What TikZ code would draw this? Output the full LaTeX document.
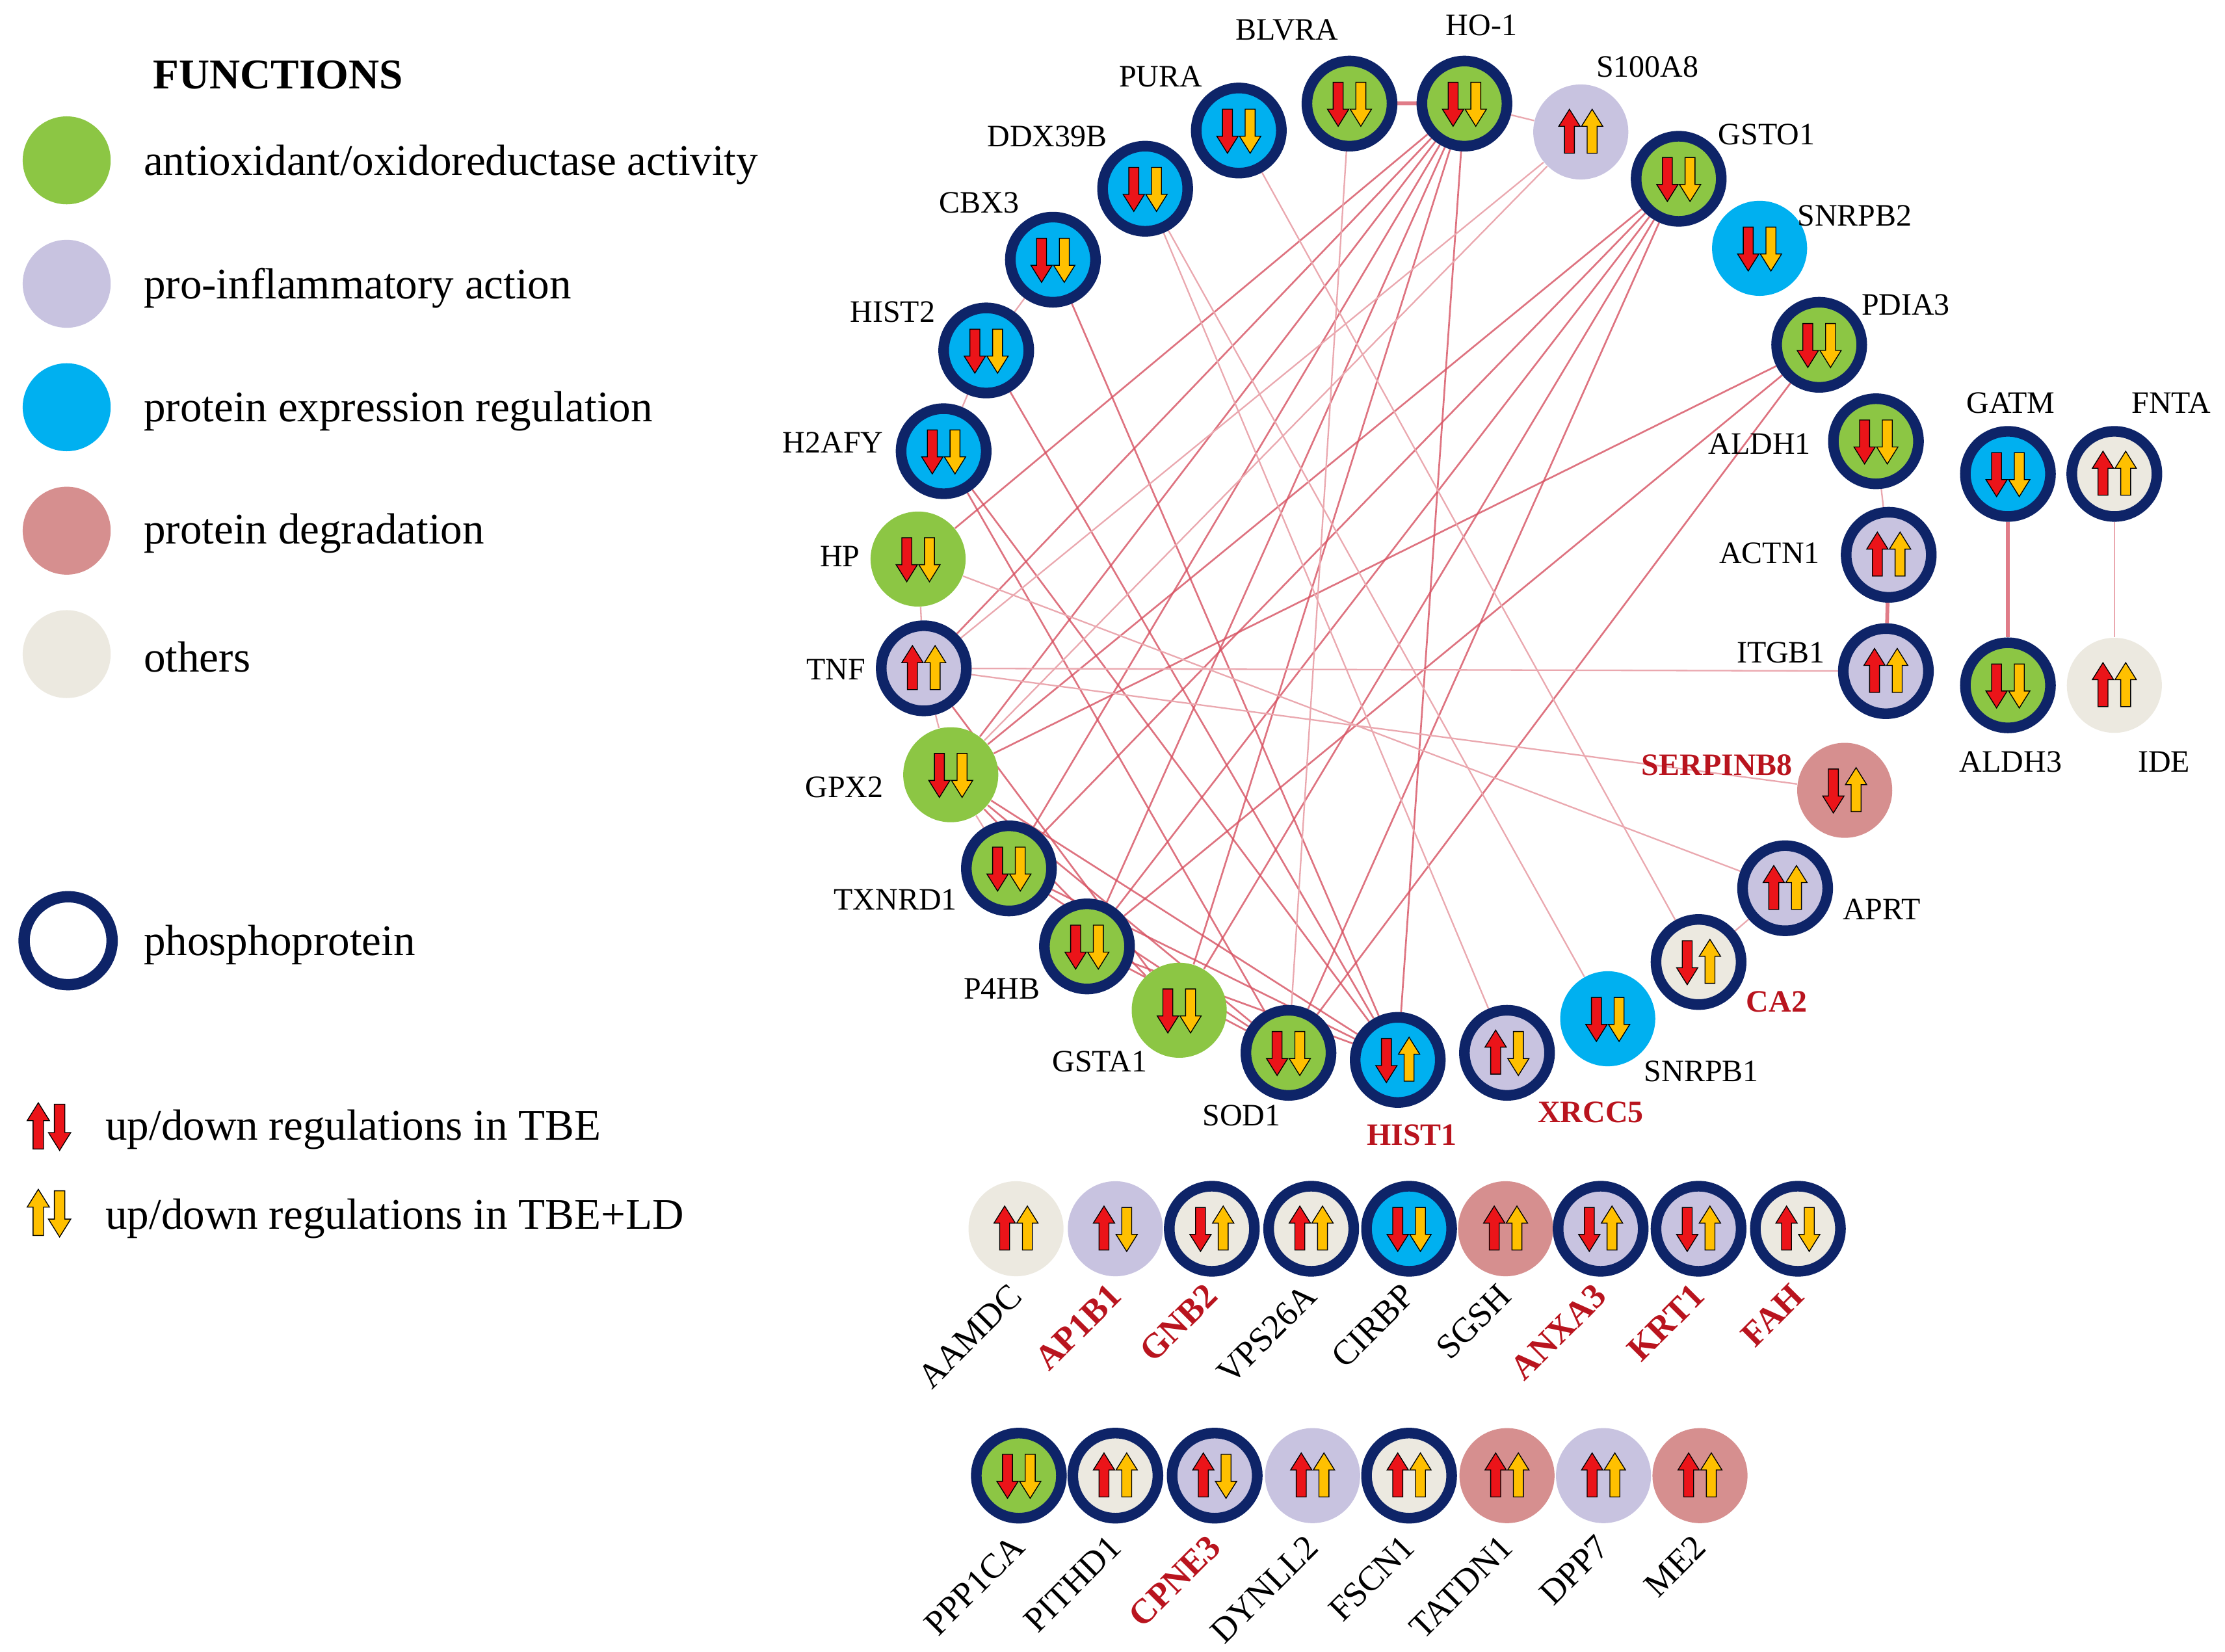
\documentclass[tikz,border=0pt]{standalone}
\usepackage{fontspec}
\setmainfont{Liberation Serif}
\usetikzlibrary{positioning}
\pgfdeclarelayer{edges}
\pgfsetlayers{edges,main}

\definecolor{funcanti}{RGB}{140,198,68}
\definecolor{funcinfl}{RGB}{200,195,224}
\definecolor{funcexpr}{RGB}{0,176,240}
\definecolor{funcdegr}{RGB}{214,143,143}
\definecolor{funcother}{RGB}{236,233,224}
\definecolor{ringblue}{RGB}{14,36,104}
\definecolor{tbered}{RGB}{235,20,25}
\definecolor{ldorange}{RGB}{255,192,0}
\definecolor{ppired}{RGB}{214,80,96}
\definecolor{hitred}{RGB}{185,20,30}

\tikzset{
  gene/.style={circle, inner sep=0pt, minimum size=1.34cm},
  phospho/.style={draw=ringblue, line width=0.15cm, minimum size=1.2cm},
  lab/.style={font=\fontsize{12.5}{14}\selectfont, inner sep=1pt},
  hitlab/.style={lab, font=\bfseries\fontsize{12.5}{14}\selectfont, text=hitred},
  rlab/.style={font=\fontsize{14}{16}\selectfont, inner sep=0pt, rotate=45, anchor=east},
  rhit/.style={rlab, font=\bfseries\fontsize{14}{16}\selectfont, text=hitred},
  legdot/.style={circle, inner sep=0pt, minimum size=1.24cm},
  legring/.style={circle, inner sep=0pt, minimum size=1.24cm, draw=ringblue, line width=0.16cm, fill=white},
  legtext/.style={font=\fontsize{17.5}{20}\selectfont, anchor=west, inner sep=0pt},
  ppi/.style={draw=ppired, line width=0.7pt, draw opacity=0.8},
  ppiweak/.style={draw=ppired!50!white, line width=0.6pt},
  ppithick/.style={draw=ppired!75!white, line width=1.5pt},
  upreg/.style={},
  downreg/.style={rotate=180},
  regarrow/.pic={
    \filldraw[draw=black, line width=0.35pt, line join=miter, pic actions]
      (-3.5,15) -- (-3.5,-4) -- (-7.5,-4) -- (0,-16) -- (7.5,-4) -- (3.5,-4) -- (3.5,15) -- cycle;
  },
}

% one protein: name, position, look, TBE, TBE+LD
\newcommand{\gene}[5]{%
  \node[gene,#3] (#1) at (#2) {};
  \pic[fill=tbered,#4] at ([xshift=-0.16cm]#1.center) {regarrow};
  \pic[fill=ldorange,#5] at ([xshift=0.16cm]#1.center) {regarrow};}

\begin{document}
\begin{tikzpicture}[x=0.02cm, y=-0.02cm]
\useasboundingbox (0,0) rectangle (1568,1164);

% legend
\node[font=\bfseries\fontsize{17}{20}\selectfont] (functitle) at (196,53) {FUNCTIONS};
\node[legdot, fill=funcanti] (Lanti) at (47,113) {};
\node[legtext] (Tanti) at (101,116) {antioxidant/oxidoreductase activity};
\node[legdot, fill=funcinfl] (Linfl) at (47,200) {};
\node[legtext] (Tinfl) at (101,203) {pro-inflammatory action};
\node[legdot, fill=funcexpr] (Lexpr) at (47,287) {};
\node[legtext] (Texpr) at (101,290) {protein expression regulation};
\node[legdot, fill=funcdegr] (Ldegr) at (47,374) {};
\node[legtext] (Tdegr) at (101,376) {protein degradation};
\node[legdot, fill=funcother] (Lother) at (47,461) {};
\node[legtext] (Tother) at (101,463) {others};
\node[legring] (Lring) at (48,663) {};
\node[legtext] (Tring) at (101,666) {phosphoprotein};
\pic[fill=tbered, scale=1.05] at (27,794) {regarrow};
\pic[fill=tbered, scale=1.05, downreg] at (42,794) {regarrow};
\node[legtext] (Ttbe) at (74,796) {up/down regulations in TBE};
\pic[fill=ldorange, scale=1.05] at (27,855) {regarrow};
\pic[fill=ldorange, scale=1.05, downreg] at (42,855) {regarrow};
\node[legtext] (Tld) at (74,859) {up/down regulations in TBE+LD};

% ring of interacting proteins
\gene{PURA}{873,92}{fill=funcexpr,phospho}{downreg}{downreg}
\gene{BLVRA}{951,73}{fill=funcanti,phospho}{downreg}{downreg}
\gene{HO1}{1032,73}{fill=funcanti,phospho}{downreg}{downreg}
\gene{S100A8}{1114,93}{fill=funcinfl}{upreg}{upreg}
\gene{GSTO1}{1183,126}{fill=funcanti,phospho}{downreg}{downreg}
\gene{SNRPB2}{1240,175}{fill=funcexpr}{downreg}{downreg}
\gene{PDIA3}{1282,243}{fill=funcanti,phospho}{downreg}{downreg}
\gene{ALDH1}{1322,311}{fill=funcanti,phospho}{downreg}{downreg}
\gene{ACTN1}{1331,391}{fill=funcinfl,phospho}{upreg}{upreg}
\gene{ITGB1}{1329,473}{fill=funcinfl,phospho}{upreg}{upreg}
\gene{SERPINB8}{1300,557}{fill=funcdegr}{downreg}{upreg}
\gene{APRT}{1258,626}{fill=funcinfl,phospho}{upreg}{upreg}
\gene{CA2}{1197,678}{fill=funcother,phospho}{downreg}{upreg}
\gene{SNRPB1}{1133,718}{fill=funcexpr}{downreg}{downreg}
\gene{XRCC5}{1062,742}{fill=funcinfl,phospho}{upreg}{downreg}
\gene{HIST1}{985,747}{fill=funcexpr,phospho}{downreg}{upreg}
\gene{SOD1}{908,742}{fill=funcanti,phospho}{downreg}{downreg}
\gene{GSTA1}{831,712}{fill=funcanti}{downreg}{downreg}
\gene{P4HB}{766,667}{fill=funcanti,phospho}{downreg}{downreg}
\gene{TXNRD1}{711,612}{fill=funcanti,phospho}{downreg}{downreg}
\gene{GPX2}{670,546}{fill=funcanti}{downreg}{downreg}
\gene{TNF}{651,471}{fill=funcinfl,phospho}{upreg}{upreg}
\gene{HP}{647,394}{fill=funcanti}{downreg}{downreg}
\gene{H2AFY}{665,318}{fill=funcexpr,phospho}{downreg}{downreg}
\gene{HIST2}{695,247}{fill=funcexpr,phospho}{downreg}{downreg}
\gene{CBX3}{742,183}{fill=funcexpr,phospho}{downreg}{downreg}
\gene{DDX39B}{807,133}{fill=funcexpr,phospho}{downreg}{downreg}

\node[lab] (PURA-l) at (818,54) {PURA};
\node[lab] (BLVRA-l) at (907,21) {BLVRA};
\node[lab] (HO1-l) at (1044,18) {HO-1};
\node[lab] (S100A8-l) at (1161,47) {S100A8};
\node[lab] (GSTO1-l) at (1245,95) {GSTO1};
\node[lab] (SNRPB2-l) at (1307,152) {SNRPB2};
\node[lab] (PDIA3-l) at (1343,215) {PDIA3};
\node[lab] (ALDH1-l) at (1240,313) {ALDH1};
\node[lab] (ACTN1-l) at (1247,390) {ACTN1};
\node[lab] (ITGB1-l) at (1255,460) {ITGB1};
\node[hitlab] (SERPINB8-l) at (1210,539) {SERPINB8};
\node[lab] (APRT-l) at (1326,641) {APRT};
\node[hitlab] (CA2-l) at (1252,706) {CA2};
\node[lab] (SNRPB1-l) at (1199,755) {SNRPB1};
\node[hitlab] (XRCC5-l) at (1121,784) {XRCC5};
\node[hitlab] (HIST1-l) at (995,800) {HIST1};
\node[lab] (SOD1-l) at (875,786) {SOD1};
\node[lab] (GSTA1-l) at (775,748) {GSTA1};
\node[lab] (P4HB-l) at (706,697) {P4HB};
\node[lab] (TXNRD1-l) at (631,634) {TXNRD1};
\node[lab] (GPX2-l) at (595,555) {GPX2};
\node[lab] (TNF-l) at (589,472) {TNF};
\node[lab] (HP-l) at (592,392) {HP};
\node[lab] (H2AFY-l) at (587,312) {H2AFY};
\node[lab] (HIST2-l) at (629,220) {HIST2};
\node[lab] (CBX3-l) at (690,143) {CBX3};
\node[lab] (DDX39B-l) at (738,96) {DDX39B};

% two pairs on the right
\gene{GATM}{1415,334}{fill=funcexpr,phospho}{downreg}{downreg}
\gene{FNTA}{1490,334}{fill=funcother,phospho}{upreg}{upreg}
\gene{ALDH3}{1415,483}{fill=funcanti,phospho}{downreg}{downreg}
\gene{IDE}{1490,483}{fill=funcother}{upreg}{upreg}
\node[lab] (GATM-l) at (1417,284) {GATM};
\node[lab] (FNTA-l) at (1530,284) {FNTA};
\node[lab] (ALDH3-l) at (1417,537) {ALDH3};
\node[lab] (IDE-l) at (1525,537) {IDE};

% proteins without interactions, row 1
\gene{AAMDC}{716,866}{fill=funcother}{upreg}{upreg}
\gene{AP1B1}{786,866}{fill=funcinfl}{upreg}{downreg}
\gene{GNB2}{854,866}{fill=funcother,phospho}{downreg}{upreg}
\gene{VPS26A}{924,866}{fill=funcother,phospho}{upreg}{upreg}
\gene{CIRBP}{993,866}{fill=funcexpr,phospho}{downreg}{downreg}
\gene{SGSH}{1061,866}{fill=funcdegr}{upreg}{upreg}
\gene{ANXA3}{1128,866}{fill=funcinfl,phospho}{downreg}{upreg}
\gene{KRT1}{1197,866}{fill=funcinfl,phospho}{downreg}{upreg}
\gene{FAH}{1267,866}{fill=funcother,phospho}{upreg}{downreg}
\node[rlab] (AAMDC-l) at ([yshift=-0.86cm]AAMDC.center) {AAMDC};
\node[rhit] (AP1B1-l) at ([yshift=-0.86cm]AP1B1.center) {AP1B1};
\node[rhit] (GNB2-l) at ([yshift=-0.86cm]GNB2.center) {GNB2};
\node[rlab] (VPS26A-l) at ([yshift=-0.86cm]VPS26A.center) {VPS26A};
\node[rlab] (CIRBP-l) at ([yshift=-0.86cm]CIRBP.center) {CIRBP};
\node[rlab] (SGSH-l) at ([yshift=-0.86cm]SGSH.center) {SGSH};
\node[rhit] (ANXA3-l) at ([yshift=-0.86cm]ANXA3.center) {ANXA3};
\node[rhit] (KRT1-l) at ([yshift=-0.86cm]KRT1.center) {KRT1};
\node[rhit] (FAH-l) at ([yshift=-0.86cm]FAH.center) {FAH};

% row 2
\gene{PPP1CA}{718,1040}{fill=funcanti,phospho}{downreg}{downreg}
\gene{PITHD1}{786,1040}{fill=funcother,phospho}{upreg}{upreg}
\gene{CPNE3}{856,1040}{fill=funcinfl,phospho}{upreg}{downreg}
\gene{DYNLL2}{925,1040}{fill=funcinfl}{upreg}{upreg}
\gene{FSCN1}{993,1040}{fill=funcother,phospho}{upreg}{upreg}
\gene{TATDN1}{1062,1040}{fill=funcdegr}{upreg}{upreg}
\gene{DPP7}{1130,1040}{fill=funcinfl}{upreg}{upreg}
\gene{ME2}{1198,1040}{fill=funcdegr}{upreg}{upreg}
\node[rlab] (PPP1CA-l) at ([yshift=-0.92cm]PPP1CA.center) {PPP1CA};
\node[rlab] (PITHD1-l) at ([yshift=-0.92cm]PITHD1.center) {PITHD1};
\node[rhit] (CPNE3-l) at ([yshift=-0.92cm]CPNE3.center) {CPNE3};
\node[rlab] (DYNLL2-l) at ([yshift=-0.92cm]DYNLL2.center) {DYNLL2};
\node[rlab] (FSCN1-l) at ([yshift=-0.92cm]FSCN1.center) {FSCN1};
\node[rlab] (TATDN1-l) at ([yshift=-0.92cm]TATDN1.center) {TATDN1};
\node[rlab] (DPP7-l) at ([yshift=-0.92cm]DPP7.center) {DPP7};
\node[rlab] (ME2-l) at ([yshift=-0.92cm]ME2.center) {ME2};

% interactions, behind the proteins
\begin{pgfonlayer}{edges}
\draw[ppithick] (BLVRA) -- (HO1);
\draw[ppithick] (ACTN1) -- (ITGB1);
\draw[ppithick] (GATM) -- (ALDH3);
\draw[ppiweak] (FNTA) -- (IDE);
\draw[ppiweak] (HO1) -- (S100A8);
\draw[ppiweak] (ALDH1) -- (ACTN1);
\draw[ppiweak] (HP) -- (TNF);
\draw[ppiweak] (TNF) -- (GPX2);
\draw[ppiweak] (GPX2) -- (TXNRD1);
\draw[ppiweak] (APRT) -- (CA2);
\draw[ppiweak] (HIST2) -- (H2AFY);
\draw[ppiweak] (CBX3) -- (HIST2);

\draw[ppi] (HO1) -- (HP);
\draw[ppi] (HO1) -- (TNF);
\draw[ppi] (HO1) -- (GPX2);
\draw[ppi] (HO1) -- (TXNRD1);
\draw[ppi] (HO1) -- (P4HB);
\draw[ppi] (HO1) -- (GSTA1);
\draw[ppi] (HO1) -- (HIST1);
\draw[ppi] (GSTO1) -- (GPX2);
\draw[ppi] (GSTO1) -- (TXNRD1);
\draw[ppi] (GSTO1) -- (P4HB);
\draw[ppi] (GSTO1) -- (GSTA1);
\draw[ppi] (GSTO1) -- (SOD1);
\draw[ppi] (PDIA3) -- (GPX2);
\draw[ppi] (PDIA3) -- (P4HB);
\draw[ppi] (PDIA3) -- (SOD1);
\draw[ppi] (H2AFY) -- (HIST1);
\draw[ppi] (H2AFY) -- (SOD1);
\draw[ppi] (HIST2) -- (HIST1);
\draw[ppi] (CBX3) -- (HIST1);
\draw[ppi] (GPX2) -- (SOD1);
\draw[ppi] (GPX2) -- (HIST1);
\draw[ppi] (GPX2) -- (GSTA1);
\draw[ppi] (TXNRD1) -- (SOD1);
\draw[ppi] (TXNRD1) -- (HIST1);
\draw[ppi] (P4HB) -- (SOD1);
\draw[ppi] (P4HB) -- (HIST1);
\draw[ppi] (TNF) -- (GSTA1);

\draw[ppiweak] (S100A8) -- (TNF);
\draw[ppiweak] (S100A8) -- (GPX2);
\draw[ppiweak] (BLVRA) -- (SOD1);
\draw[ppiweak] (PURA) -- (CA2);
\draw[ppiweak] (DDX39B) -- (XRCC5);
\draw[ppiweak] (DDX39B) -- (SNRPB1);
\draw[ppiweak] (TNF) -- (ITGB1);
\draw[ppiweak] (TNF) -- (SERPINB8);
\draw[ppiweak] (HP) -- (APRT);
\end{pgfonlayer}
\end{tikzpicture}
\end{document}
